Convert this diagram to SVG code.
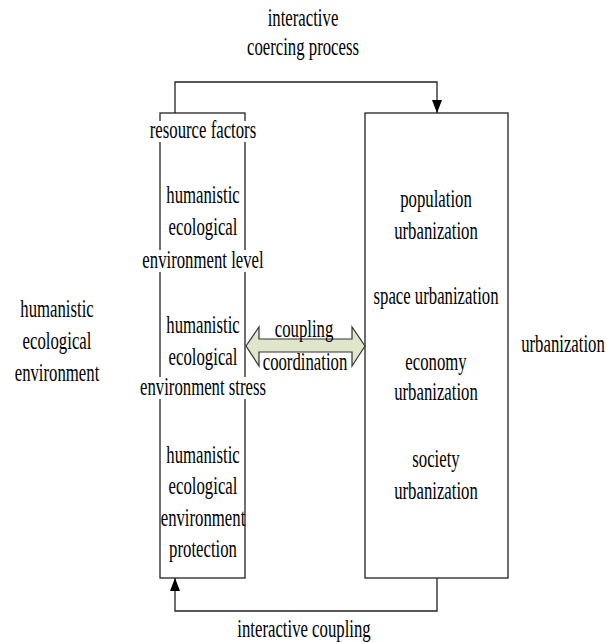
<svg xmlns="http://www.w3.org/2000/svg" width="606" height="642" viewBox="0 0 606 642">
<style>
text{font-family:"Liberation Serif","Times New Roman",serif;font-size:25px;fill:#000;text-anchor:middle}
.box{fill:#fff;stroke:#222;stroke-width:1.3}
.line{fill:none;stroke:#222;stroke-width:1.3}
.dbl{fill:#dfe6cc;stroke:#333;stroke-width:1.2}
.bg{fill:#fff}
</style>
<defs>
<marker id="ah" viewBox="0 0 13 10" refX="13" refY="5" markerWidth="13" markerHeight="10" markerUnits="userSpaceOnUse" orient="auto">
<path d="M0,0 L13,5 L0,10 Z" fill="#000"/>
</marker>
</defs>
<rect width="606" height="642" fill="#fff"/>
<g id="connectors">
<path class="line" d="M175,113 V82 H437 V113" marker-end="url(#ah)"/>
<path class="line" d="M437,578 V611 H175 V578" marker-end="url(#ah)"/>
</g>
<g id="humanistic-box">
<rect class="box" x="160" y="113" width="85" height="465"/>
<rect class="bg" x="141" y="250" width="124" height="22"/>
<rect class="bg" x="140" y="377" width="126" height="22"/>
<rect class="bg" x="149" y="121" width="109" height="21"/>
<text transform="translate(203,138) scale(0.67,1)">resource factors</text>
<text transform="translate(203,203) scale(0.67,1)">humanistic</text>
<text transform="translate(203,235) scale(0.67,1)">ecological</text>
<text transform="translate(203,268) scale(0.67,1)">environment level</text>
<text transform="translate(203,333) scale(0.67,1)">humanistic</text>
<text transform="translate(203,365) scale(0.67,1)">ecological</text>
<text transform="translate(203,395) scale(0.67,1)">environment stress</text>
<text transform="translate(203,463) scale(0.67,1)">humanistic</text>
<text transform="translate(203,494) scale(0.67,1)">ecological</text>
<text transform="translate(203,526) scale(0.67,1)">environment</text>
<text transform="translate(203,557) scale(0.67,1)">protection</text>
</g>
<g id="urbanization-box">
<rect class="box" x="365" y="113" width="143" height="465"/>
<text transform="translate(436,207) scale(0.67,1)">population</text>
<text transform="translate(436,239) scale(0.67,1)">urbanization</text>
<text transform="translate(436,304) scale(0.67,1)">space urbanization</text>
<text transform="translate(436,370) scale(0.67,1)">economy</text>
<text transform="translate(436,400) scale(0.67,1)">urbanization</text>
<text transform="translate(436,467) scale(0.67,1)">society</text>
<text transform="translate(436,499) scale(0.67,1)">urbanization</text>
</g>
<g id="coupling-arrow">
<path class="dbl" d="M246,346 L259,327 L259,339 L352,339 L352,327 L365,346 L352,366 L352,352 L259,352 L259,366 Z"/>
<text transform="translate(304,337) scale(0.67,1)">coupling</text>
<text transform="translate(305,370) scale(0.67,1)">coordination</text>
</g>
<g id="labels">
<text transform="translate(303,26) scale(0.67,1)">interactive</text>
<text transform="translate(303,55) scale(0.67,1)">coercing process</text>
<text transform="translate(304,637) scale(0.67,1)">interactive coupling</text>
<text transform="translate(57,317) scale(0.67,1)">humanistic</text>
<text transform="translate(57,349) scale(0.67,1)">ecological</text>
<text transform="translate(57,381) scale(0.67,1)">environment</text>
<text transform="translate(563,352) scale(0.67,1)">urbanization</text>
</g>
</svg>
